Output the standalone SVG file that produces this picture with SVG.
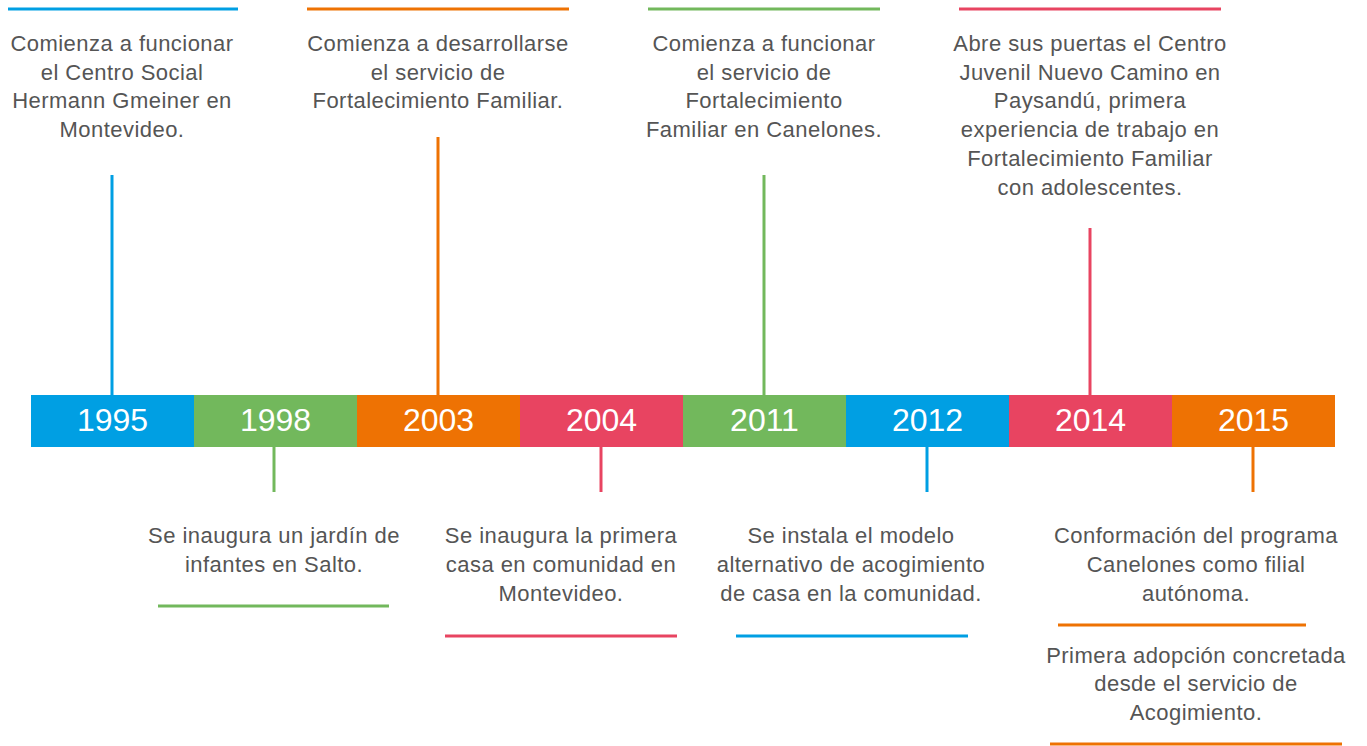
<svg xmlns="http://www.w3.org/2000/svg" width="1367" height="746" viewBox="0 0 1367 746">
<style>
.t{font-family:"Liberation Sans",Arial,sans-serif;font-size:22px;letter-spacing:0.45px;fill:#555555;text-anchor:middle}
.y{font-family:"Liberation Sans",Arial,sans-serif;font-size:32px;fill:#ffffff;text-anchor:middle}
.ln{stroke-width:3;fill:none}
.b{stroke:#009FE3}.g{stroke:#72B85C}.o{stroke:#EE7203}.r{stroke:#E84461}
</style>
<rect width="1367" height="746" fill="#ffffff"/>
<g id="connectors">
<line class="ln b" x1="8" y1="9" x2="238" y2="9"/>
<line class="ln o" x1="307" y1="9" x2="569" y2="9"/>
<line class="ln g" x1="648" y1="9" x2="880" y2="9"/>
<line class="ln r" x1="959" y1="9" x2="1221" y2="9"/>
<line class="ln b" x1="112" y1="175" x2="112" y2="395"/>
<line class="ln o" x1="438" y1="137" x2="438" y2="395"/>
<line class="ln g" x1="764" y1="175" x2="764" y2="395"/>
<line class="ln r" x1="1090" y1="228" x2="1090" y2="395"/>
<line class="ln g" x1="274" y1="447" x2="274" y2="492"/>
<line class="ln r" x1="601" y1="447" x2="601" y2="492"/>
<line class="ln b" x1="927" y1="447" x2="927" y2="492"/>
<line class="ln o" x1="1253" y1="447" x2="1253" y2="492"/>
<line class="ln g" x1="158" y1="606" x2="389" y2="606"/>
<line class="ln r" x1="445" y1="636" x2="677" y2="636"/>
<line class="ln b" x1="736" y1="636" x2="968" y2="636"/>
<line class="ln o" x1="1058" y1="625" x2="1306" y2="625"/>
<line class="ln o" x1="1050" y1="744" x2="1342" y2="744"/>
</g>
<g id="y1995"><rect x="31" y="395" width="163" height="52" fill="#009FE3"/><text class="y" x="112.5" y="431">1995</text></g>
<g id="y1998"><rect x="194" y="395" width="163" height="52" fill="#72B85C"/><text class="y" x="275.5" y="431">1998</text></g>
<g id="y2003"><rect x="357" y="395" width="163" height="52" fill="#EE7203"/><text class="y" x="438.5" y="431">2003</text></g>
<g id="y2004"><rect x="520" y="395" width="163" height="52" fill="#E84461"/><text class="y" x="601.5" y="431">2004</text></g>
<g id="y2011"><rect x="683" y="395" width="163" height="52" fill="#72B85C"/><text class="y" x="764.5" y="431">2011</text></g>
<g id="y2012"><rect x="846" y="395" width="163" height="52" fill="#009FE3"/><text class="y" x="927.5" y="431">2012</text></g>
<g id="y2014"><rect x="1009" y="395" width="163" height="52" fill="#E84461"/><text class="y" x="1090.5" y="431">2014</text></g>
<g id="y2015"><rect x="1172" y="395" width="163" height="52" fill="#EE7203"/><text class="y" x="1253.5" y="431">2015</text></g>
<g id="e1995"><text class="t" x="122" y="51">Comienza a funcionar</text><text class="t" x="122" y="80">el Centro Social</text><text class="t" x="122" y="108">Hermann Gmeiner en</text><text class="t" x="122" y="137">Montevideo.</text></g>
<g id="e2003"><text class="t" x="438" y="51">Comienza a desarrollarse</text><text class="t" x="438" y="80">el servicio de</text><text class="t" x="438" y="108">Fortalecimiento Familiar.</text></g>
<g id="e2011"><text class="t" x="764" y="51">Comienza a funcionar</text><text class="t" x="764" y="80">el servicio de</text><text class="t" x="764" y="108">Fortalecimiento</text><text class="t" x="764" y="137">Familiar en Canelones.</text></g>
<g id="e2014"><text class="t" x="1090" y="51">Abre sus puertas el Centro</text><text class="t" x="1090" y="80">Juvenil Nuevo Camino en</text><text class="t" x="1090" y="108">Paysandú, primera</text><text class="t" x="1090" y="137">experiencia de trabajo en</text><text class="t" x="1090" y="166">Fortalecimiento Familiar</text><text class="t" x="1090" y="195">con adolescentes.</text></g>
<g id="e1998"><text class="t" x="274" y="543">Se inaugura un jardín de</text><text class="t" x="274" y="572">infantes en Salto.</text></g>
<g id="e2004"><text class="t" x="561" y="543">Se inaugura la primera</text><text class="t" x="561" y="572">casa en comunidad en</text><text class="t" x="561" y="601">Montevideo.</text></g>
<g id="e2012"><text class="t" x="851" y="543">Se instala el modelo</text><text class="t" x="851" y="572">alternativo de acogimiento</text><text class="t" x="851" y="601">de casa en la comunidad.</text></g>
<g id="e2015a"><text class="t" x="1196" y="543">Conformación del programa</text><text class="t" x="1196" y="572">Canelones como filial</text><text class="t" x="1196" y="601">autónoma.</text></g>
<g id="e2015b"><text class="t" x="1196" y="663">Primera adopción concretada</text><text class="t" x="1196" y="691">desde el servicio de</text><text class="t" x="1196" y="720">Acogimiento.</text></g>
</svg>
